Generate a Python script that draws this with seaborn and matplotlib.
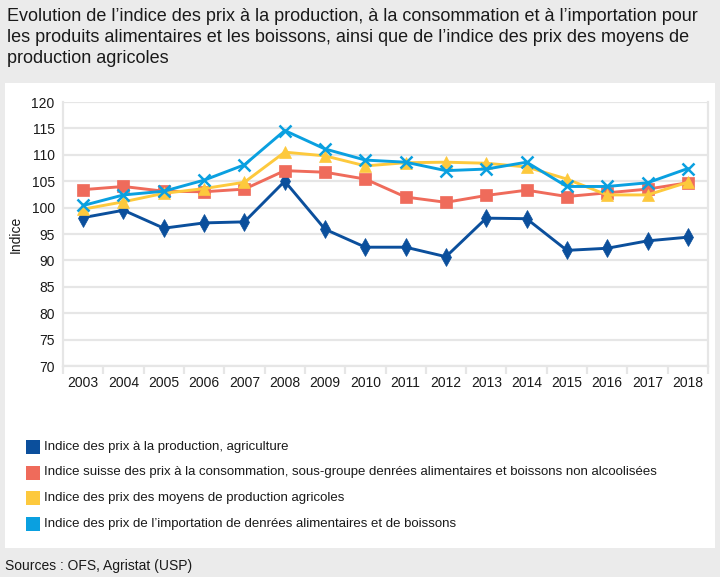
"""
Indices des prix agricoles 2003-2018 (production, consommation, moyens de production, importation)
"""

import matplotlib
matplotlib.use("Agg")
import matplotlib.pyplot as plt
from matplotlib.patches import Rectangle
import numpy as np
import pandas as pd
import seaborn as sns

years = [str(y) for y in range(2003, 2019)]

prod_agri = [98.1, 99.5, 96.1, 97.1, 97.3, 105.0, 95.9, 92.5, 92.5, 90.7,
             98.0, 97.9, 91.9, 92.3, 93.7, 94.4]
conso = [103.4, 104.0, 103.1, 103.0, 103.5, 107.0, 106.7, 105.4, 102.0, 101.0,
         102.3, 103.3, 102.1, 102.8, 103.5, 104.7]
moyens_prod = [99.7, 101.1, 102.7, 103.6, 104.8, 110.5, 109.8, 107.9, 108.5, 108.6,
               108.4, 107.7, 105.4, 102.4, 102.4, 104.8]
importation = [100.4, 102.4, 103.1, 105.2, 108.1, 114.6, 111.1, 109.0, 108.6, 107.0,
               107.3, 108.6, 104.0, 104.0, 104.7, 107.4]

series_names = [
    "Indice des prix à la production, agriculture",
    "Indice suisse des prix à la consommation, sous-groupe denrées alimentaires et boissons non alcoolisées",
    "Indice des prix des moyens de production agricoles",
    "Indice des prix de l’importation de denrées alimentaires et de boissons",
]
colors = ["#0b4f9c", "#ef6b5b", "#fdc93d", "#0aa0e0"]
markers = ["d", "s", "^", "x"]

title = ("Evolution de l’indice des prix à la production, à la consommation et à l’importation pour\n"
         "les produits alimentaires et les boissons, ainsi que de l’indice des prix des moyens de\n"
         "production agricoles")
source = "Sources : OFS, Agristat (USP)"

sns.set_theme(style="white")
plt.rcParams["font.family"] = ["Liberation Sans", "DejaVu Sans"]

fig = plt.figure(figsize=(7.2, 5.77), dpi=100)
fig.patch.set_facecolor("#ebebeb")

W, H = 720, 577
# white inner panel
fig.patches.append(Rectangle((5 / W, 1 - 548 / H), 710 / W, (548 - 83) / H,
                             transform=fig.transFigure, facecolor="white",
                             edgecolor="none", zorder=0))

ax = fig.add_axes([63 / W, 1 - 366 / H, (708 - 63) / W, (366 - 102) / H])
ax.set_zorder(2)
ax.set_facecolor("none")

x = np.arange(len(years))
all_values = [prod_agri, conso, moyens_prod, importation]
df = pd.concat([pd.DataFrame({"x": x, "val": v, "serie": n})
                for v, n in zip(all_values, series_names)])

for name, col, mk in zip(series_names, colors, markers):
    sub = df[df["serie"] == name]
    ms = {"d": 9, "s": 9, "^": 9, "x": 8}[mk]
    sns.lineplot(data=sub, x="x", y="val", ax=ax, color=col, linewidth=2.1,
                 marker=mk, markersize=ms, markeredgecolor=col,
                 markeredgewidth=1.8 if mk == "x" else 0.5, legend=False)

ax.set_xlim(-0.5, len(years) - 0.5)
ax.set_ylim(70, 120)
ax.set_yticks(range(70, 121, 5))
ax.set_xticks(x)
ax.set_xticklabels(years)
ax.set_xticks(np.arange(-0.5, len(years), 1), minor=True)
ax.grid(axis="y", color="#e6e6e6", linewidth=1.6)
ax.set_axisbelow(True)
ax.spines["top"].set_visible(False)
for s in ["left", "bottom", "right"]:
    ax.spines[s].set_color("#e6e6e6")
    ax.spines[s].set_linewidth(1.6)
ax.tick_params(axis="x", which="major", length=0, labelsize=10, pad=7, colors="#1a1a1a")
ax.tick_params(axis="x", which="minor", length=6, width=1.6, color="#e6e6e6", bottom=True)
ax.tick_params(axis="y", length=0, labelsize=10, pad=6, colors="#1a1a1a")
ax.set_xlabel("")
ax.set_ylabel("Indice", fontsize=10, color="#1a1a1a", labelpad=6)

fig.text(7 / W, 1 - 8 / H, title, ha="left", va="top", fontsize=13,
         color="#1a1a1a", linespacing=1.3)

# legend as coloured squares
for i, (name, col) in enumerate(zip(series_names, colors)):
    yc = 447 + i * 25.5
    fig.patches.append(Rectangle((26 / W, 1 - (yc + 7) / H), 14 / W, 14 / H,
                                 transform=fig.transFigure, facecolor=col,
                                 edgecolor="none", zorder=2))
    fig.text(44 / W, 1 - yc / H, name, ha="left", va="center", fontsize=9.5,
             color="#1a1a1a")

fig.text(5 / W, 1 - 566 / H, source, ha="left", va="center", fontsize=10,
         color="#1a1a1a")

fig.savefig("out.png", dpi=100, facecolor=fig.get_facecolor())
